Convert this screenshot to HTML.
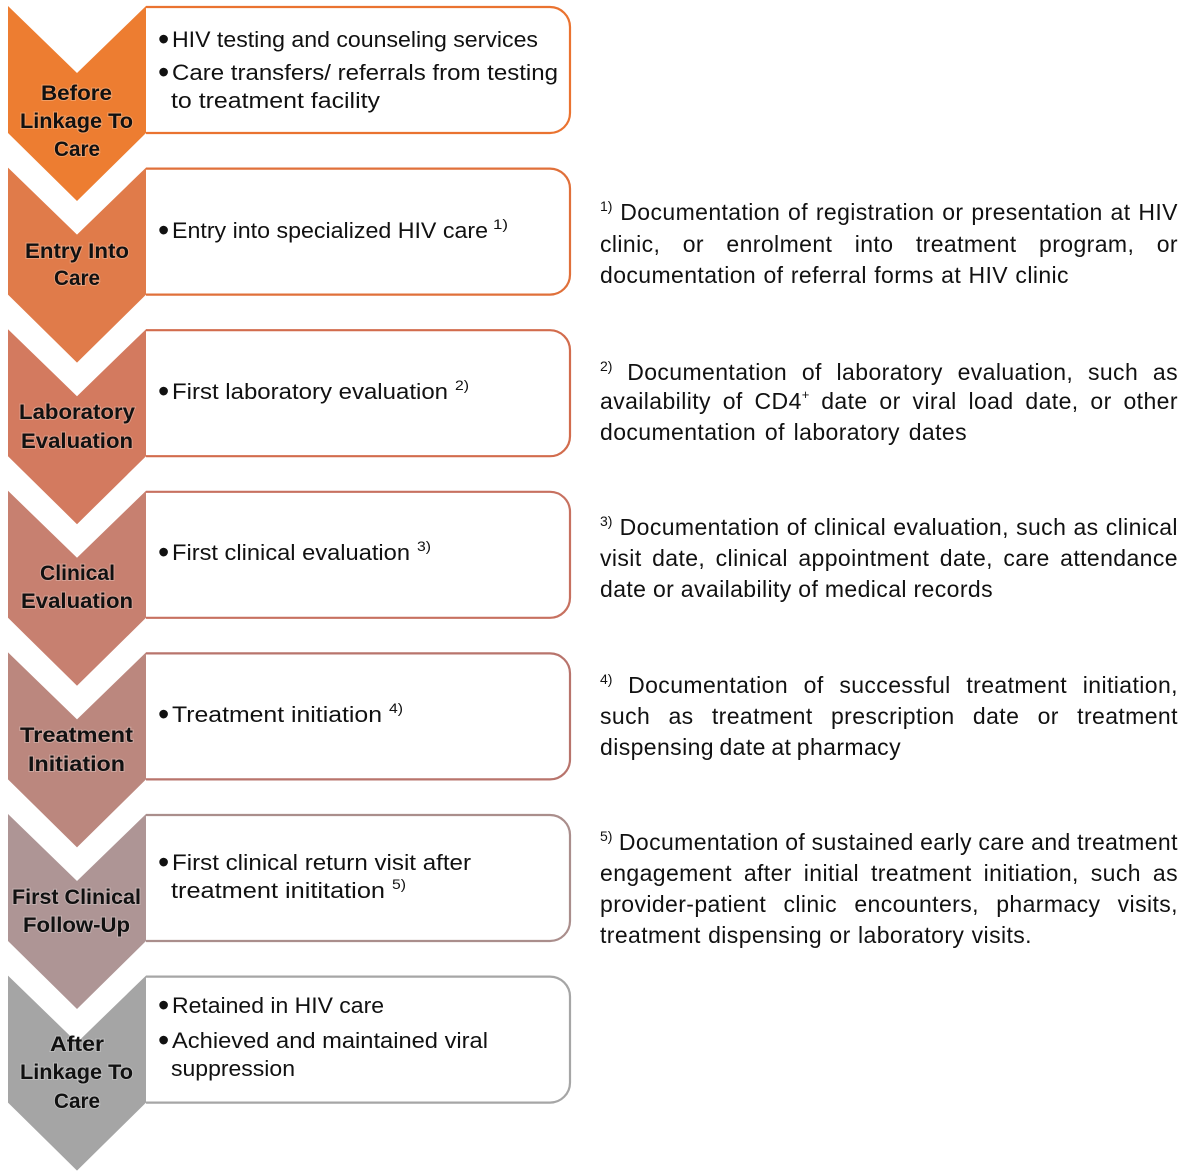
<!DOCTYPE html>
<html>
<head>
<meta charset="utf-8">
<style>
html,body{margin:0;padding:0;background:#fff;}
body{width:1200px;height:1175px;position:relative;overflow:hidden;}
svg{position:absolute;left:0;top:0;}
.r{position:absolute;left:600px;width:578px;height:26px;line-height:26px;font-family:"Liberation Sans",Arial,sans-serif;font-size:23px;letter-spacing:0.4px;color:#111;display:flex;justify-content:space-between;align-items:baseline;column-gap:5px;white-space:nowrap;}
.sp{font-size:14px;letter-spacing:0;position:relative;top:-9px;}
.sp2{font-size:13px;letter-spacing:0;position:relative;top:-10px;}
</style>
</head>
<body>
<svg width="1200" height="1175" viewBox="0 0 1200 1175" xmlns="http://www.w3.org/2000/svg">
  <g fill="#fff" stroke-width="2.2">
    <path d="M146,7 H550 A20,20 0 0 1 570,27 V113 A20,20 0 0 1 550,133 H146" stroke="#EA7330"/>
    <path d="M146,168.6 H550 A20,20 0 0 1 570,188.6 V274.6 A20,20 0 0 1 550,294.6 H146" stroke="#E0703A"/>
    <path d="M146,330.2 H550 A20,20 0 0 1 570,350.2 V436.2 A20,20 0 0 1 550,456.2 H146" stroke="#D26C4D"/>
    <path d="M146,491.8 H550 A20,20 0 0 1 570,511.8 V597.8 A20,20 0 0 1 550,617.8 H146" stroke="#C77160"/>
    <path d="M146,653.4 H550 A20,20 0 0 1 570,673.4 V759.4 A20,20 0 0 1 550,779.4 H146" stroke="#B8746C"/>
    <path d="M146,815 H550 A20,20 0 0 1 570,835 V921 A20,20 0 0 1 550,941 H146" stroke="#AA8E8C"/>
    <path d="M146,976.6 H550 A20,20 0 0 1 570,996.6 V1082.6 A20,20 0 0 1 550,1102.6 H146" stroke="#A6A6A6"/>
  </g>
  <polygon points="8,6 77,73 146,6 146,133 77,201 8,133" fill="#ED7D31"/>
  <polygon points="8,167.6 77,234.6 146,167.6 146,294.6 77,362.6 8,294.6" fill="#E07B4A"/>
  <polygon points="8,329.2 77,396.2 146,329.2 146,456.2 77,524.2 8,456.2" fill="#D37A5F"/>
  <polygon points="8,490.8 77,557.8 146,490.8 146,617.8 77,685.8 8,617.8" fill="#C78070"/>
  <polygon points="8,652.4 77,719.4 146,652.4 146,779.4 77,847.4 8,779.4" fill="#BB877E"/>
  <polygon points="8,814 77,881 146,814 146,941 77,1009 8,941" fill="#AE9595"/>
  <polygon points="8,975.6 77,1042.6 146,975.6 146,1102.6 77,1170.6 8,1102.6" fill="#A5A5A5"/>

  <g font-family="Liberation Sans, Arial, sans-serif" font-weight="bold" font-size="21.5" fill="#111" stroke="rgba(255,255,255,0.25)" stroke-width="2" paint-order="stroke">
    <text x="41" y="100" textLength="71" lengthAdjust="spacingAndGlyphs">Before</text>
    <text x="20" y="128" textLength="113" lengthAdjust="spacingAndGlyphs">Linkage To</text>
    <text x="54" y="156" textLength="46" lengthAdjust="spacingAndGlyphs">Care</text>

    <text x="25" y="258" textLength="104" lengthAdjust="spacingAndGlyphs">Entry Into</text>
    <text x="54" y="285" textLength="46" lengthAdjust="spacingAndGlyphs">Care</text>

    <text x="19" y="419" textLength="116" lengthAdjust="spacingAndGlyphs">Laboratory</text>
    <text x="21" y="448" textLength="112" lengthAdjust="spacingAndGlyphs">Evaluation</text>

    <text x="40" y="580" textLength="75" lengthAdjust="spacingAndGlyphs">Clinical</text>
    <text x="21" y="608" textLength="112" lengthAdjust="spacingAndGlyphs">Evaluation</text>

    <text x="20" y="742" textLength="113" lengthAdjust="spacingAndGlyphs">Treatment</text>
    <text x="28" y="771" textLength="97" lengthAdjust="spacingAndGlyphs">Initiation</text>

    <text x="12" y="904" textLength="129" lengthAdjust="spacingAndGlyphs">First Clinical</text>
    <text x="23" y="932" textLength="107" lengthAdjust="spacingAndGlyphs">Follow-Up</text>

    <text x="50" y="1051" textLength="54" lengthAdjust="spacingAndGlyphs">After</text>
    <text x="20" y="1079" textLength="113" lengthAdjust="spacingAndGlyphs">Linkage To</text>
    <text x="54" y="1108" textLength="46" lengthAdjust="spacingAndGlyphs">Care</text>
  </g>

  <g font-family="Liberation Sans, Arial, sans-serif" font-size="32" fill="#111">
    <text x="158" y="50">•</text>
    <text x="158" y="83">•</text>
    <text x="158" y="241">•</text>
    <text x="158" y="402">•</text>
    <text x="158" y="563">•</text>
    <text x="158" y="725">•</text>
    <text x="158" y="873">•</text>
    <text x="158" y="1016">•</text>
    <text x="158" y="1051">•</text>
  </g>

  <g font-family="Liberation Sans, Arial, sans-serif" font-size="22.5" fill="#111">
    <text x="172" y="47" textLength="366" lengthAdjust="spacingAndGlyphs">HIV testing and counseling services</text>
    <text x="172" y="80" textLength="386" lengthAdjust="spacingAndGlyphs">Care transfers/ referrals from testing</text>
    <text x="171" y="108" textLength="209" lengthAdjust="spacingAndGlyphs">to treatment facility</text>

    <text x="172" y="238" textLength="316" lengthAdjust="spacingAndGlyphs">Entry into specialized HIV care</text>
    <text x="172" y="399" textLength="276" lengthAdjust="spacingAndGlyphs">First laboratory evaluation</text>
    <text x="172" y="560" textLength="238" lengthAdjust="spacingAndGlyphs">First clinical evaluation</text>
    <text x="172" y="722" textLength="210" lengthAdjust="spacingAndGlyphs">Treatment initiation</text>
    <text x="172" y="870" textLength="299" lengthAdjust="spacingAndGlyphs">First clinical return visit after</text>
    <text x="171" y="898" textLength="214" lengthAdjust="spacingAndGlyphs">treatment inititation</text>
    <text x="172" y="1013" textLength="212" lengthAdjust="spacingAndGlyphs">Retained in HIV care</text>
    <text x="172" y="1048" textLength="316" lengthAdjust="spacingAndGlyphs">Achieved and maintained viral</text>
    <text x="171" y="1076" textLength="124" lengthAdjust="spacingAndGlyphs">suppression</text>
  </g>
  <g font-family="Liberation Sans, Arial, sans-serif" font-size="14" fill="#111">
    <text x="493" y="229" textLength="15" lengthAdjust="spacingAndGlyphs">1)</text>
    <text x="455" y="390" textLength="14" lengthAdjust="spacingAndGlyphs">2)</text>
    <text x="417" y="551" textLength="14" lengthAdjust="spacingAndGlyphs">3)</text>
    <text x="389" y="713" textLength="14" lengthAdjust="spacingAndGlyphs">4)</text>
    <text x="392" y="889" textLength="14" lengthAdjust="spacingAndGlyphs">5)</text>
  </g>
</svg>

<!-- Note 1 -->
<div class="r" style="top:199px;"><span class="sp">1)</span><span>Documentation</span><span>of</span><span>registration</span><span>or</span><span>presentation</span><span>at</span><span>HIV</span></div>
<div class="r" style="top:231px;"><span>clinic,</span><span>or</span><span>enrolment</span><span>into</span><span>treatment</span><span>program,</span><span>or</span></div>
<div class="r" style="top:262px;width:469px;"><span>documentation</span><span>of</span><span>referral</span><span>forms</span><span>at</span><span>HIV</span><span>clinic</span></div>

<!-- Note 2 -->
<div class="r" style="top:359px;"><span class="sp">2)</span><span>Documentation</span><span>of</span><span>laboratory</span><span>evaluation,</span><span>such</span><span>as</span></div>
<div class="r" style="top:388px;"><span>availability</span><span>of</span><span>CD4<span class="sp2">+</span></span><span>date</span><span>or</span><span>viral</span><span>load</span><span>date,</span><span>or</span><span>other</span></div>
<div class="r" style="top:419px;width:367px;"><span>documentation</span><span>of</span><span>laboratory</span><span>dates</span></div>

<!-- Note 3 -->
<div class="r" style="top:514px;"><span class="sp">3)</span><span>Documentation</span><span>of</span><span>clinical</span><span>evaluation,</span><span>such</span><span>as</span><span>clinical</span></div>
<div class="r" style="top:545px;"><span>visit</span><span>date,</span><span>clinical</span><span>appointment</span><span>date,</span><span>care</span><span>attendance</span></div>
<div class="r" style="top:576px;width:393px;"><span>date</span><span>or</span><span>availability</span><span>of</span><span>medical</span><span>records</span></div>

<!-- Note 4 -->
<div class="r" style="top:672px;"><span class="sp">4)</span><span>Documentation</span><span>of</span><span>successful</span><span>treatment</span><span>initiation,</span></div>
<div class="r" style="top:703px;"><span>such</span><span>as</span><span>treatment</span><span>prescription</span><span>date</span><span>or</span><span>treatment</span></div>
<div class="r" style="top:734px;width:301px;"><span>dispensing</span><span>date</span><span>at</span><span>pharmacy</span></div>

<!-- Note 5 -->
<div class="r" style="top:829px;"><span class="sp">5)</span><span>Documentation</span><span>of</span><span>sustained</span><span>early</span><span>care</span><span>and</span><span>treatment</span></div>
<div class="r" style="top:860px;"><span>engagement</span><span>after</span><span>initial</span><span>treatment</span><span>initiation,</span><span>such</span><span>as</span></div>
<div class="r" style="top:891px;"><span>provider-patient</span><span>clinic</span><span>encounters,</span><span>pharmacy</span><span>visits,</span></div>
<div class="r" style="top:922px;width:432px;"><span>treatment</span><span>dispensing</span><span>or</span><span>laboratory</span><span>visits.</span></div>
</body>
</html>
